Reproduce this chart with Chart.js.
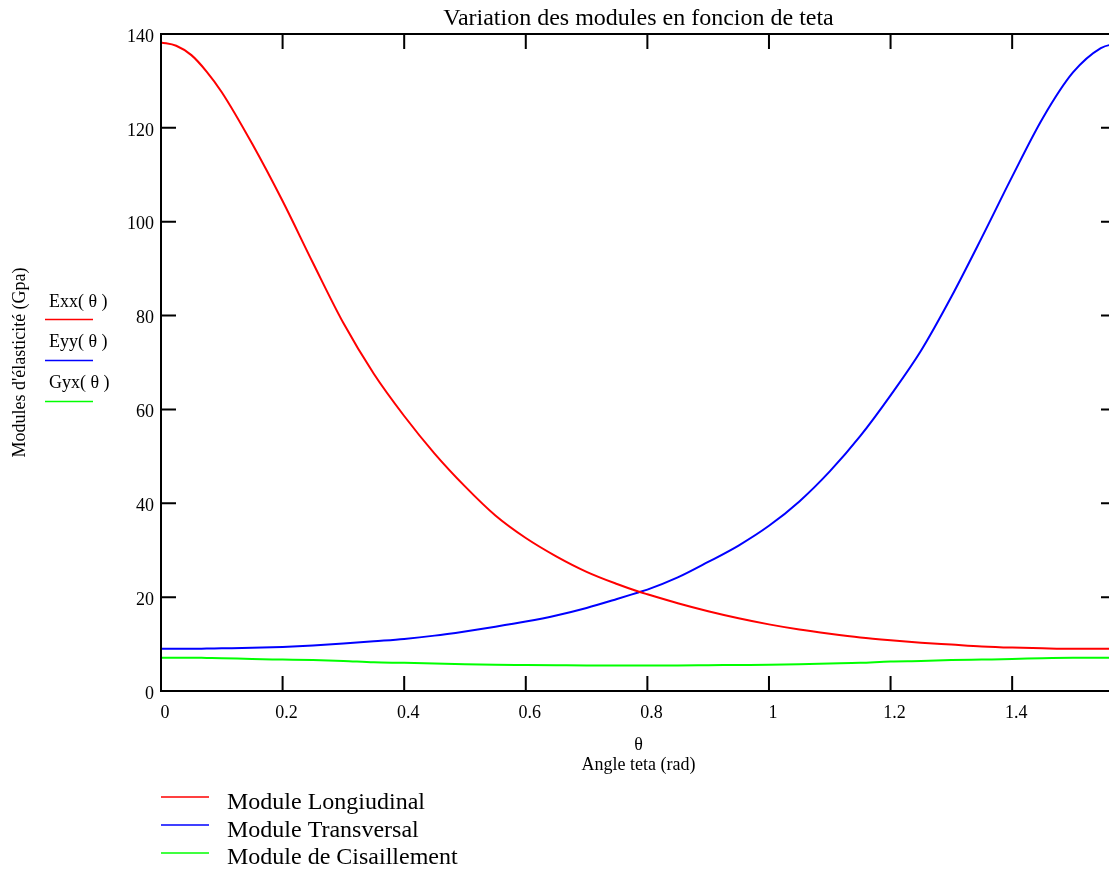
<!DOCTYPE html>
<html><head><meta charset="utf-8">
<script src="https://cdn.jsdelivr.net/npm/chart.js@4.4.1/dist/chart.umd.min.js"></script>
<style>
html,body{margin:0;padding:0;overflow:hidden;background:#fff;width:1109px;height:871px}
#wrap{position:absolute;left:0;top:0;width:1117px;height:871px}
</style></head>
<body><div id="wrap"><canvas id="c" width="1117" height="871"></canvas></div>
<script>
const theta=[0,0.025,0.05,0.075,0.1,0.15,0.2,0.25,0.3,0.35,0.4,0.45,0.5,0.55,0.6,0.65,0.7,0.75,0.785,0.8,0.85,0.9,0.95,1.0,1.05,1.1,1.15,1.2,1.25,1.3,1.35,1.4,1.45,1.5,1.5458,1.5708];
const exx=[138.2,137.5,135.5,132.0,127.6,116.6,104.4,91.2,78.4,67.6,58.6,50.6,43.6,37.4,32.6,28.7,25.4,22.8,21.2,20.6,18.7,17.0,15.5,14.2,13.1,12.2,11.4,10.8,10.3,9.9,9.5,9.25,9.1,9.0,9.0,9.0];
const eyy=[9.0,9.0,9.0,9.05,9.1,9.2,9.4,9.7,10.1,10.6,11.1,11.8,12.7,13.7,14.8,16.1,17.7,19.6,21.0,21.6,24.2,27.5,31.0,35.2,40.4,46.8,54.3,63.0,72.5,84.0,96.6,109.6,122.0,131.8,137.0,138.0];
const gyx=[7.1,7.1,7.1,7.05,7.0,6.8,6.7,6.6,6.4,6.1,6.0,5.85,5.7,5.6,5.55,5.5,5.45,5.45,5.45,5.45,5.45,5.5,5.55,5.6,5.7,5.85,6.0,6.3,6.4,6.6,6.7,6.8,7.0,7.1,7.1,7.1];
const xTicks=[0,0.2,0.4,0.6,0.8,1,1.2,1.4];
const yTicks=[0,20,40,60,80,100,120,140];
const seriesNames=['Exx( θ )','Eyy( θ )','Gyx( θ )'];
const legendNames=['Module Longiudinal','Module Transversal','Module de Cisaillement'];
const colors=['#ff0000','#0000ff','#00ff00'];
const FONT="'Liberation Serif','Times New Roman',serif";

const toXY=arr=>theta.map((t,i)=>({x:t,y:arr[i]}));

const framePlugin={id:'frame',afterDatasetsDraw(chart){
  const {ctx,chartArea:a,scales:{x,y}}=chart;
  ctx.save();ctx.strokeStyle='#000';ctx.lineWidth=2;
  ctx.strokeRect(a.left,a.top,a.right-a.left,a.bottom-a.top);
  const L=15;ctx.beginPath();
  x.ticks.forEach(t=>{const p=x.getPixelForValue(t.value);
    ctx.moveTo(p,a.bottom);ctx.lineTo(p,a.bottom-L);ctx.moveTo(p,a.top);ctx.lineTo(p,a.top+L);});
  y.ticks.forEach(t=>{const p=y.getPixelForValue(t.value);
    ctx.moveTo(a.left,p);ctx.lineTo(a.left+L,p);ctx.moveTo(a.right,p);ctx.lineTo(a.right-L,p);});
  ctx.stroke();ctx.restore();
}};

const legendPlugin={id:'legends',afterDraw(chart){
  const ctx=chart.ctx;ctx.save();
  ctx.font='18px '+FONT;ctx.fillStyle='#000';ctx.textBaseline='alphabetic';ctx.textAlign='left';
  const lb=[306.5,347,387.5], ll=[319.5,360.5,401.5];
  seriesNames.forEach((n,i)=>{
    ctx.fillStyle='#000';ctx.fillText(n,49,lb[i]);
    ctx.strokeStyle=colors[i];ctx.lineWidth=1.5;ctx.beginPath();ctx.moveTo(45,ll[i]);ctx.lineTo(93,ll[i]);ctx.stroke();
  });
  ctx.font='24px '+FONT;
  const bb=[809,837,864], bl=[797,825,853];
  legendNames.forEach((n,i)=>{
    ctx.strokeStyle=colors[i];ctx.lineWidth=1.5;ctx.beginPath();ctx.moveTo(161,bl[i]);ctx.lineTo(209,bl[i]);ctx.stroke();
    ctx.fillStyle='#000';ctx.fillText(n,227,bb[i]);
  });
  ctx.restore();
}};

new Chart(document.getElementById('c'),{
  type:'line',
  data:{datasets:[
    {label:seriesNames[0],data:toXY(exx),borderColor:colors[0],borderWidth:2,pointRadius:0,cubicInterpolationMode:'monotone',fill:false},
    {label:seriesNames[1],data:toXY(eyy),borderColor:colors[1],borderWidth:2,pointRadius:0,cubicInterpolationMode:'monotone',fill:false},
    {label:seriesNames[2],data:toXY(gyx),borderColor:colors[2],borderWidth:2,pointRadius:0,cubicInterpolationMode:'monotone',fill:false}
  ]},
  options:{
    responsive:false,animation:false,devicePixelRatio:1,
    layout:{padding:{left:0,right:1,top:0,bottom:0}},
    plugins:{
      legend:{display:false},tooltip:{enabled:false},
      title:{display:true,text:'Variation des modules en foncion de teta',color:'#000',fullSize:false,
        font:{family:FONT,size:24,weight:'normal',lineHeight:1.2},padding:{top:4.2,bottom:1}}
    },
    scales:{
      x:{type:'linear',min:0,max:Math.PI/2,
        afterBuildTicks:s=>{s.ticks=xTicks.map(v=>({value:v}));},
        afterFit:s=>{s.height=180;},
        grid:{display:false,drawTicks:false},border:{display:false},
        ticks:{color:'#000',font:{family:FONT,size:18},padding:11,labelOffset:4,maxRotation:0,autoSkip:false,includeBounds:false,
          callback:v=>String(v)},
        title:{display:true,text:['θ','Angle teta (rad)'],color:'#000',font:{family:FONT,size:18,lineHeight:1.1},padding:{top:0,bottom:96}}
      },
      y:{type:'linear',min:0,max:140,
        afterBuildTicks:s=>{s.ticks=yTicks.map(v=>({value:v}));},
        afterFit:s=>{s.width=161;},
        grid:{display:false,drawTicks:false},border:{display:false},
        ticks:{color:'#000',font:{family:FONT,size:18},padding:7,labelOffset:3,callback:v=>String(v)},
        title:{display:true,text:"Modules d'élasticité (Gpa)",color:'#000',font:{family:FONT,size:18,lineHeight:1.2},padding:{top:9,bottom:0}}
      }
    }
  },
  plugins:[framePlugin,legendPlugin]
});
</script></body></html>
